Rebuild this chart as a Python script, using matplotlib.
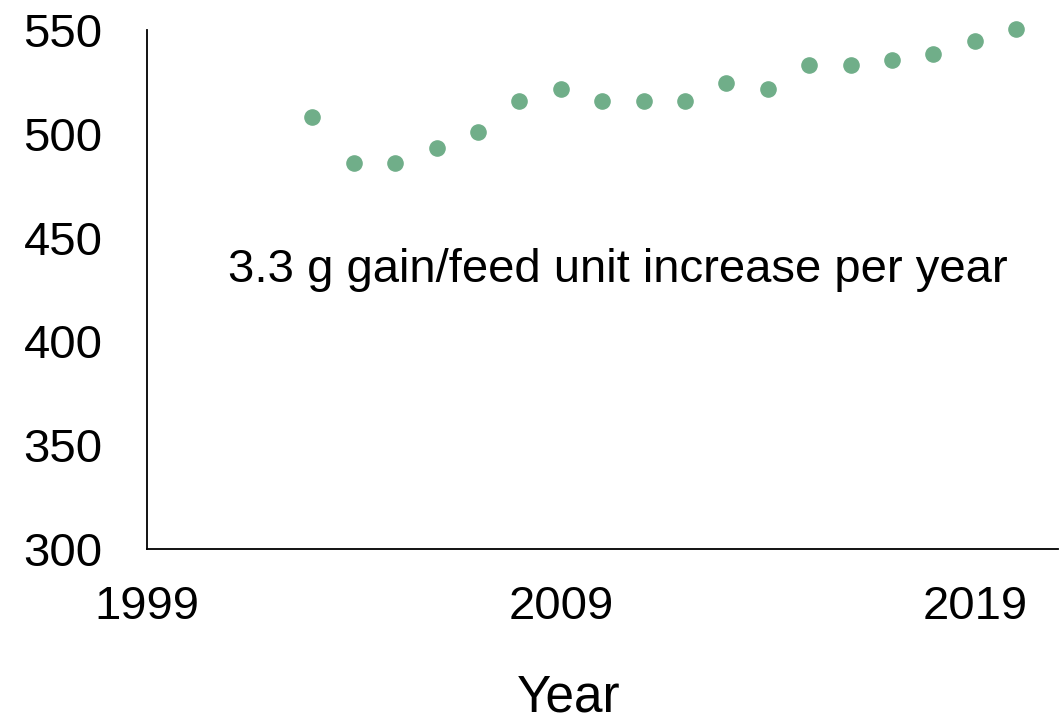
import matplotlib
matplotlib.use("Agg")
import matplotlib.pyplot as plt

plt.rcParams['font.family'] = ['Liberation Sans', 'DejaVu Sans']

# Data
years = [2003, 2004, 2005, 2006, 2007, 2008, 2009, 2010, 2011, 2012,
         2013, 2014, 2015, 2016, 2017, 2018, 2019, 2020]
gain_per_feed = [508, 486, 486, 493, 501, 516, 521.5, 516, 516, 516,
                 524.5, 521.5, 533, 533, 535.5, 538.5, 544.5, 550.5]
x_ticks = [1999, 2009, 2019]
y_ticks = [300, 350, 400, 450, 500, 550]

fig = plt.figure(figsize=(10.64, 7.21), dpi=100)
ax = fig.add_axes([0.138, 0.2386, 0.856, 0.7198])

ax.scatter(years, gain_per_feed, s=120, color='#70AE89', clip_on=False, zorder=3)

ax.set_xlim(1999, 2021)
ax.set_ylim(300, 550)
ax.set_xticks(x_ticks)
ax.set_yticks(y_ticks)
ax.tick_params(axis='both', length=0, labelsize=34)
ax.tick_params(axis='x', pad=26)
ax.tick_params(axis='y', pad=32)

for side in ['top', 'right']:
    ax.spines[side].set_visible(False)
for side in ['left', 'bottom']:
    ax.spines[side].set_linewidth(1.3)

ax.text(2000.95, 428.4, '3.3 g gain/feed unit increase per year',
        fontsize=34, va='baseline', ha='left')

fig.text(0.534, 0.032, 'Year', fontsize=37, ha='center', va='center')

fig.savefig('out.png', dpi=100)
